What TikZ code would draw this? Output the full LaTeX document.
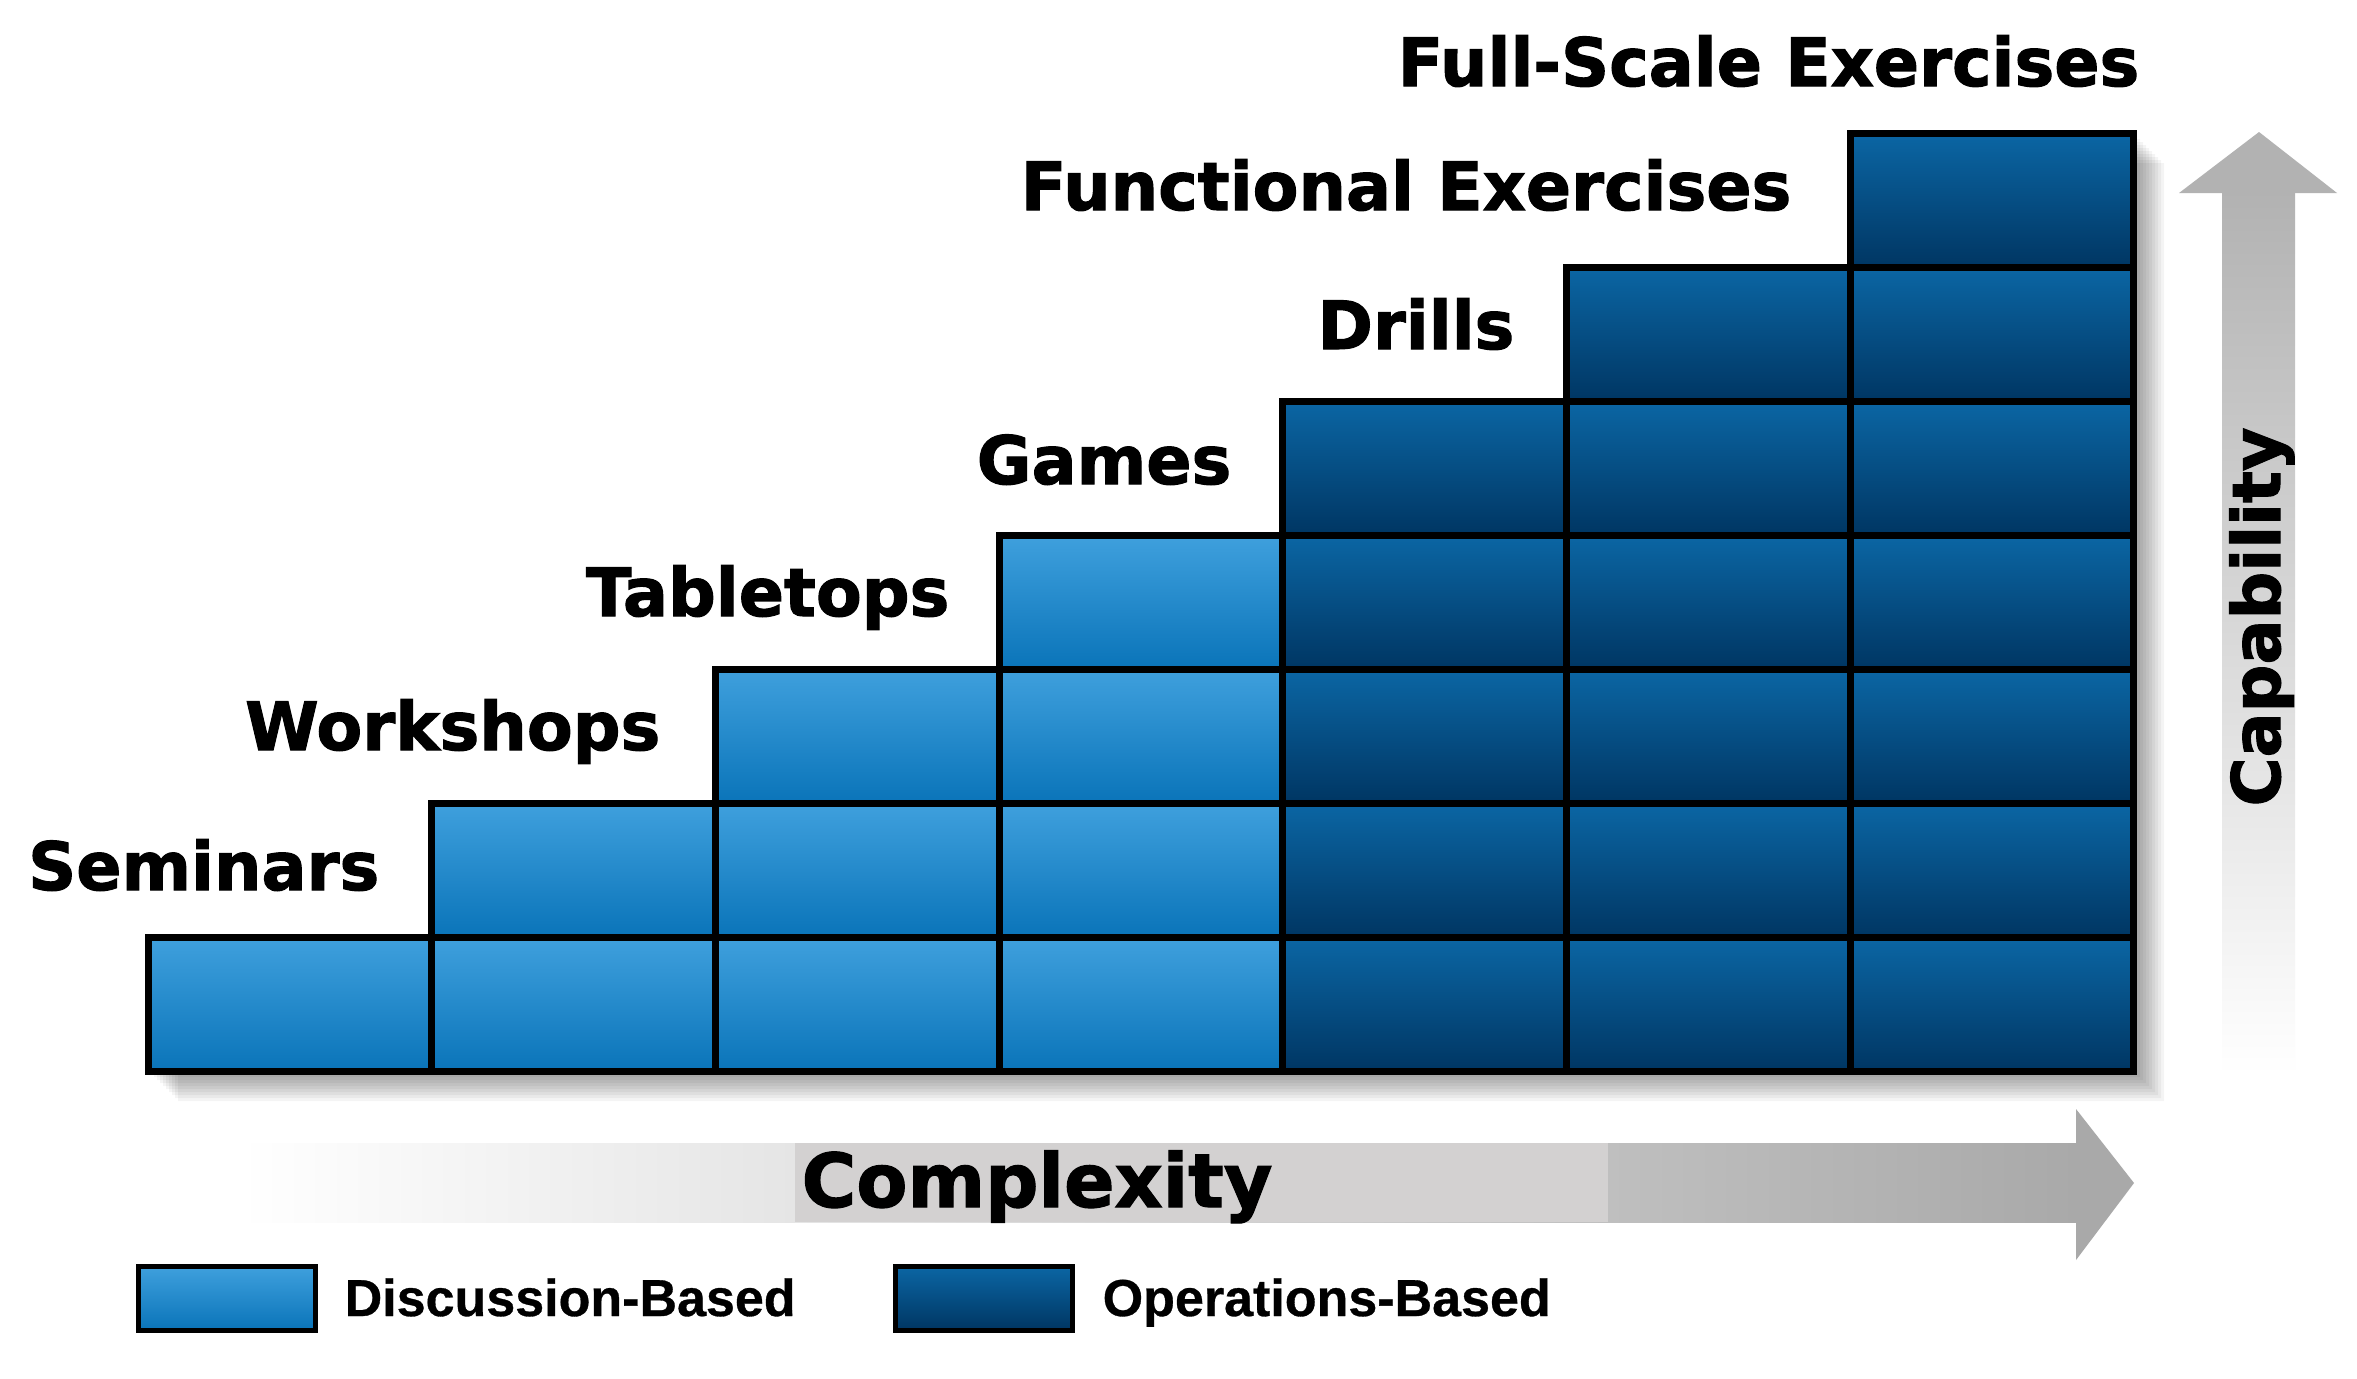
\documentclass[tikz,border=0pt]{standalone}
\usepackage{fontspec}
\newfontfamily\headfont{DejaVu Sans}[BoldFeatures={FakeBold=1.6}]
\newfontfamily\legfont{Liberation Sans}[BoldFeatures={FakeBold=0.6}]
\definecolor{lightT}{HTML}{3FA0DD}
\definecolor{lightM}{HTML}{2A8ED0}
\definecolor{lightB}{HTML}{0A74B9}
\definecolor{darkT}{HTML}{0B66A4}
\definecolor{darkM}{HTML}{05538F}
\definecolor{darkB}{HTML}{003663}
\definecolor{arrgray}{HTML}{A9A9A9}
\definecolor{capgray}{HTML}{B2B2B2}
\definecolor{boxgray}{HTML}{D3D1D1}
\begin{document}
\begin{tikzpicture}[x=0.1mm,y=-0.1mm,
  cell/.style={draw=black,line width=0.7mm,minimum width=28.37mm,minimum height=13.4mm,inner sep=0pt,outer sep=0pt},
  cellL/.style={cell,top color=lightT,middle color=lightM,bottom color=lightB},
  cellD/.style={cell,top color=darkT,middle color=darkM,bottom color=darkB},
  steplabel/.style={font=\headfont\bfseries\fontsize{19}{22}\selectfont,anchor=base east,inner sep=0pt},
  axislabel/.style={font=\headfont\bfseries\fontsize{21.2}{24}\selectfont,inner sep=0pt,anchor=base},
  caplabel/.style={font=\headfont\bfseries\fontsize{19}{22}\selectfont,inner sep=0pt,anchor=base,rotate=90},
  legendtext/.style={font=\legfont\bfseries\fontsize{14.8}{17}\selectfont,anchor=base west,inner sep=0pt},
  legendbox/.style={draw=black,line width=0.5mm,minimum width=17.7mm,minimum height=6.4mm,inner sep=0pt,outer sep=0pt}]
\useasboundingbox (0,0) rectangle (2357,1378);
\fill[white] (0,0) rectangle (2357,1378);
% soft shadow of the staircase
\foreach \i in {1,...,10}{
  \fill[black,opacity=0.045,shift={(\i*3,\i*3)}] (148,1071) -- (2134,1071) -- (2134,133) -- (1850,133) -- (1850,267) -- (1566,267) -- (1566,401) -- (1283,401) -- (1283,535) -- (999,535) -- (999,669) -- (715,669) -- (715,803) -- (432,803) -- (432,937) -- (148,937) -- cycle;
}
% cells
\foreach \c in {0,...,3}{
  \foreach \r in {0,...,\c}{
    \node[cellL] (cell\c\r) at ({148+(\c+0.5)*283.7},{1071-(\r+0.5)*134}) {};
  }
}
\foreach \c in {4,5,6}{
  \foreach \r in {0,...,\c}{
    \node[cellD] (cell\c\r) at ({148+(\c+0.5)*283.7},{1071-(\r+0.5)*134}) {};
  }
}
% step labels
\node[steplabel] (seminars) at (380,890) {Seminars};
\node[steplabel] (workshops) at (661,750) {Workshops};
\node[steplabel] (tabletops) at (950,616) {Tabletops};
\node[steplabel] (games) at (1232,484) {Games};
\node[steplabel] (drills) at (1515,349) {Drills};
\node[steplabel] (functional) at (1792,210) {Functional Exercises};
\node[steplabel] (fullscale) at (2140,86) {Full-Scale Exercises};
% complexity arrow
\fill[left color=white,right color=arrgray] (240,1143) rectangle (2078,1222);
\fill[boxgray] (795,1143) rectangle (1608,1222);
\fill[arrgray] (2076,1109) -- (2134,1183) -- (2076,1260) -- cycle;
\node[axislabel] (complexity) at (1037,1207) {Complexity};
% capability arrow
\fill[top color=capgray,bottom color=white] (2222,190) rectangle (2295,1075);
\fill[capgray] (2179,193) -- (2259,132) -- (2337,193) -- cycle;
\node[caplabel] (capability) at (2280,617) {Capability};
% legend
\node[legendbox,top color=lightT,middle color=lightM,bottom color=lightB] (legdisc) at (226.5,1298) {};
\node[legendtext] (legdisctext) at (344,1316) {Discussion-Based};
\node[legendbox,top color=darkT,middle color=darkM,bottom color=darkB] (legops) at (984,1298) {};
\node[legendtext] (legopstext) at (1102,1316) {Operations-Based};
\end{tikzpicture}
\end{document}
